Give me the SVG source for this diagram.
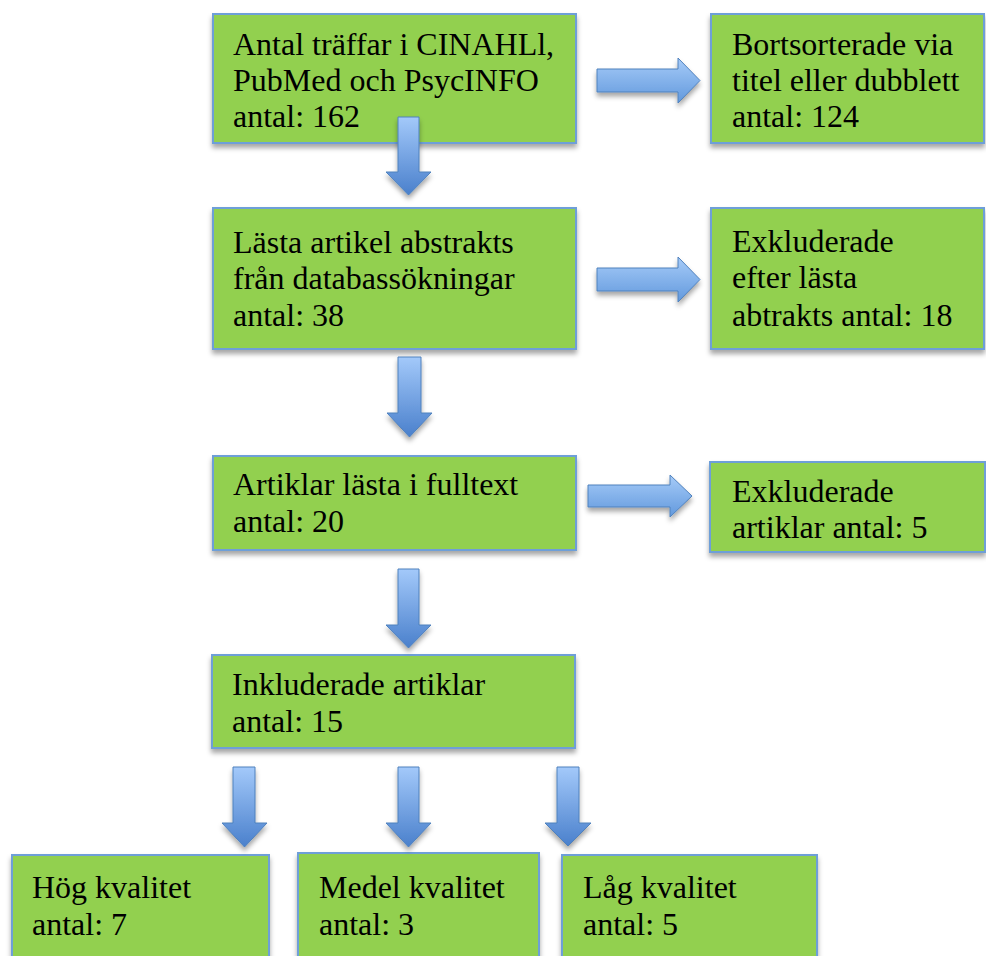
<svg xmlns="http://www.w3.org/2000/svg" width="986" height="956" viewBox="0 0 986 956">
<defs>
<filter id="sh" x="-10%" y="-10%" width="125%" height="135%">
<feDropShadow dx="0" dy="4" stdDeviation="2.5" flood-color="#000" flood-opacity="0.35"/>
</filter>
<linearGradient id="gd" x1="0" y1="0" x2="0" y2="1">
<stop offset="0" stop-color="#A3C9FA"/>
<stop offset="1" stop-color="#4A80CC"/>
</linearGradient>
<linearGradient id="gr" x1="0" y1="0" x2="0" y2="1">
<stop offset="0" stop-color="#A6CBF8"/>
<stop offset="1" stop-color="#6299DD"/>
</linearGradient>
<style>
.box{fill:#92D050;stroke:#6E9FD8;stroke-width:2;filter:url(#sh)}
.t{font-family:"Times New Roman","Liberation Serif",Tinos,serif;font-size:32px;fill:#000}
.ad{fill:url(#gd);stroke:#4F81BD;stroke-width:1;filter:url(#sh)}
.ar{fill:url(#gr);stroke:#4F81BD;stroke-width:1;filter:url(#sh)}
</style>
</defs>
<rect width="986" height="956" fill="#fff"/>
<g id="n1"><rect class="box" x="213" y="14" width="363" height="129"/>
<text class="t" font-family="Times New Roman" x="233" y="55">Antal träffar i CINAHLl,</text>
<text class="t" font-family="Times New Roman" x="233" y="91">PubMed och PsycINFO</text>
<text class="t" font-family="Times New Roman" x="233" y="127">antal: 162</text></g>
<g id="n2"><rect class="box" x="711" y="14" width="273" height="129"/>
<text class="t" font-family="Times New Roman" x="732" y="55">Bortsorterade via</text>
<text class="t" font-family="Times New Roman" x="732" y="91">titel eller dubblett</text>
<text class="t" font-family="Times New Roman" x="732" y="127">antal: 124</text></g>
<g id="n3"><rect class="box" x="213" y="208" width="363" height="141"/>
<text class="t" font-family="Times New Roman" x="233" y="253">Lästa artikel abstrakts</text>
<text class="t" font-family="Times New Roman" x="233" y="289">från databassökningar</text>
<text class="t" font-family="Times New Roman" x="233" y="326">antal: 38</text></g>
<g id="n4"><rect class="box" x="711" y="208" width="273" height="141"/>
<text class="t" font-family="Times New Roman" x="732" y="252">Exkluderade</text>
<text class="t" font-family="Times New Roman" x="732" y="288">efter lästa</text>
<text class="t" font-family="Times New Roman" x="732" y="326">abtrakts antal: 18</text></g>
<g id="n5"><rect class="box" x="213" y="456" width="363" height="94"/>
<text class="t" font-family="Times New Roman" x="233" y="495">Artiklar lästa i fulltext</text>
<text class="t" font-family="Times New Roman" x="233" y="532">antal: 20</text></g>
<g id="n6"><rect class="box" x="710" y="462" width="275" height="90"/>
<text class="t" font-family="Times New Roman" x="732" y="502">Exkluderade</text>
<text class="t" font-family="Times New Roman" x="732" y="538">artiklar antal: 5</text></g>
<g id="n7"><rect class="box" x="212" y="655" width="363" height="93"/>
<text class="t" font-family="Times New Roman" x="232" y="695">Inkluderade artiklar</text>
<text class="t" font-family="Times New Roman" x="232" y="732">antal: 15</text></g>
<g id="n8"><rect class="box" x="12" y="855" width="257" height="110"/>
<text class="t" font-family="Times New Roman" x="32" y="898">Hög kvalitet</text>
<text class="t" font-family="Times New Roman" x="32" y="935">antal: 7</text></g>
<g id="n9"><rect class="box" x="298" y="853" width="241" height="112"/>
<text class="t" font-family="Times New Roman" x="319" y="898">Medel kvalitet</text>
<text class="t" font-family="Times New Roman" x="319" y="935">antal: 3</text></g>
<g id="n10"><rect class="box" x="562" y="855" width="255" height="110"/>
<text class="t" font-family="Times New Roman" x="583" y="898">Låg kvalitet</text>
<text class="t" font-family="Times New Roman" x="583" y="935">antal: 5</text></g>
<g id="connectors">
<path class="ad" d="M398,117 H419 V172 H431 L408.5,195 L386,172 H398 Z"/>
<path class="ad" d="M398,357 H421 V413 H432 L409.5,437 L387,413 H398 Z"/>
<path class="ad" d="M398,569 H419 V625 H431 L408.5,648 L386,625 H398 Z"/>
<path class="ad" d="M233,767 H255 V823 H267 L244.5,847 L222,823 H233 Z"/>
<path class="ad" d="M398,767 H419 V823 H431 L408.5,847 L386,823 H398 Z"/>
<path class="ad" d="M557,767 H579 V823 H591 L568,846 L545,823 H557 Z"/>
<path class="ar" d="M597,69 H678 V58 L700,80.5 L678,103 V92 H597 Z"/>
<path class="ar" d="M597,268 H678 V257 L700,279.5 L678,302 V291 H597 Z"/>
<path class="ar" d="M588,485 H670 V475 L692,496 L670,517 V507 H588 Z"/>
</g>
</svg>
